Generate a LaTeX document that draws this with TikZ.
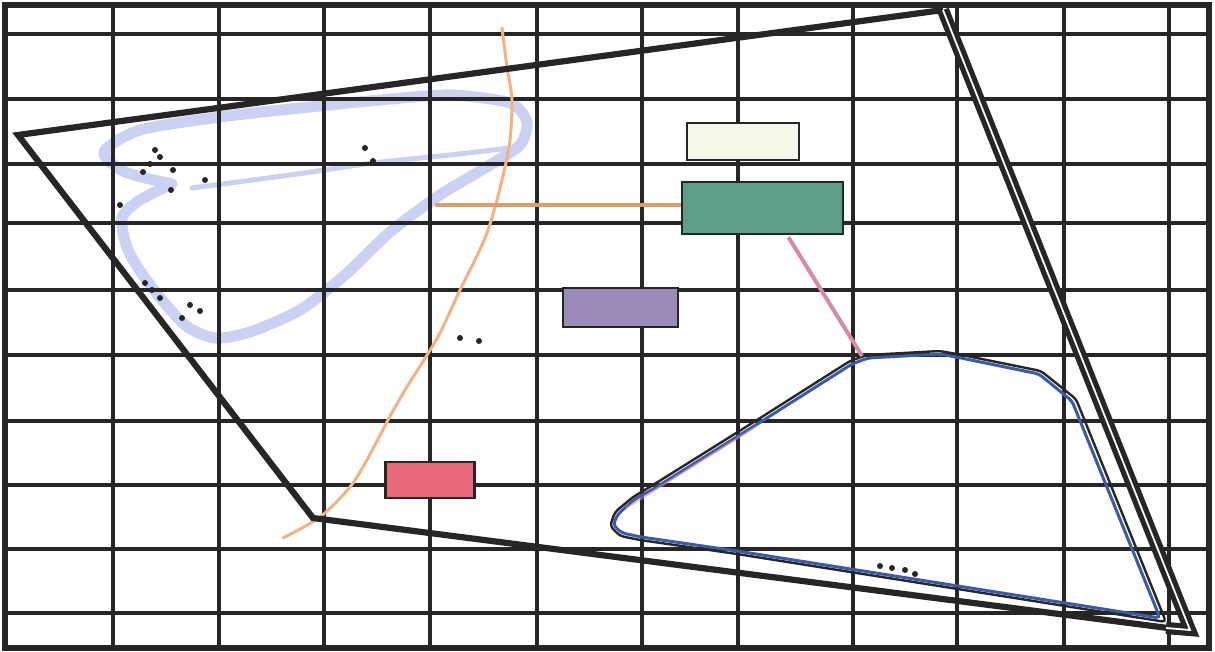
\documentclass[tikz,border=0pt]{standalone}
\usetikzlibrary{calc}
\definecolor{SketchInk}{HTML}{262626}
\definecolor{SketchLoop}{HTML}{CBD1F3}
\definecolor{SketchOrange}{HTML}{F2B283}
\definecolor{SketchRust}{HTML}{D99E6E}
\definecolor{SketchRose}{HTML}{D88AA2}
\definecolor{SketchBlue}{HTML}{3A5CA8}
\definecolor{CardCream}{HTML}{F8F8EA}
\definecolor{CardGreen}{HTML}{5C9E88}
\definecolor{CardLilac}{HTML}{9B8BB8}
\definecolor{CardRed}{HTML}{E86A7A}
\tikzset{
  gridline/.style={draw=SketchInk, line width=3.2pt},
  frame/.style={draw=SketchInk, line width=6pt},
  hull/.style={draw=SketchInk, line width=6.2pt, line join=miter},
  hullrim/.style={draw=SketchInk, line width=5.2pt, double=white, double distance=1.8pt},
  card/.style={draw=SketchInk, line width=2.6pt, inner sep=0pt},
  loopband/.style={draw=SketchLoop, line width=11pt, line cap=round, line join=round},
  loopthin/.style={draw=SketchLoop, line width=5pt, line cap=round},
  trail/.style={draw=SketchOrange, line width=3pt, line cap=round},
  orangelink/.style={draw=SketchRust, line width=4pt},
  roselink/.style={draw=SketchRose, line width=4pt},
  blobrim/.style={draw=SketchInk, line width=2.4pt, rounded corners=4pt},
  blobblue/.style={draw=SketchBlue, line width=3pt, rounded corners=4pt},
}

\begin{document}
\begin{tikzpicture}[x=1pt,y=-1pt]
  % coordinates are pixels of the sheet, y grows downwards
  \useasboundingbox (0,0) rectangle (1215,652);
  \fill[white] (0,0) rectangle (1215,652);
  % pale loop, under the grid
  \draw[loopband] plot[smooth, tension=0.45] coordinates {(172,184) (140,200) (122,218) (128,250) (150,285) (185,325) (215,338) (250,332) (300,310) (345,275) (390,232) (440,195) (490,165) (520,145) (527,122) (510,103) (450,95) (380,100) (300,108) (220,117) (140,130) (104,152) (125,172) (172,184)};
  \draw[loopthin] plot[smooth, tension=0.5] coordinates {(192,188) (290,175) (373,163) (450,155) (518,147)};
  % grid
  \foreach \x in {113,219,324,430,537,642,738,853,957,1064,1169}
    \draw[gridline] (\x,5) -- (\x,648);
  \foreach \y in {34,99,164,223,290,355,421,485,549,613}
    \draw[gridline] (5,\y) -- (1209,\y);
  \draw[frame] (5,5) rectangle (1209,648);
  % orange trail
  \draw[trail] plot[smooth, tension=0.5] coordinates {(502,28) (507,67) (512,100) (510,140) (505,167) (497,200) (487,233) (475,260) (460,290) (440,333) (424,360) (405,390) (388,420) (368,458) (350,487) (320,517) (283,538)};
  % big quadrilateral
  \draw[hull] (943,10) -- (18,135) -- (313,518) -- (1168,628);
  \draw[hullrim] (943,10) -- (1190,630) -- (1166,628);
  % lower right outline
  \coordinate (peak) at (862,356);
  \draw[blobblue] (655,488) -- (759,423) -- (852,364) -- (868,358) -- (940,354) -- (961,358) -- (1039,374) -- (1072,401) -- (1160,618) -- (800,561) -- (737,551) -- (641,537) -- (622,533) -- (613,525) -- (618,514) -- (635,499) -- cycle;
  \draw[SketchRose, line width=2pt, opacity=0.6] (626,508) -- (655,490) -- (757,426);
  \draw[blobrim] (653,485) -- (757,420) -- (850,361) -- (867,355) -- (940,351) -- (962,355) -- (1041,371) -- (1076,399) -- (1166,622) -- (800,564) -- (737,554) -- (640,540) -- (620,536) -- (610,526) -- (615,512) -- (633,497) -- cycle;
  % cards
  \node[card, fill=CardCream, minimum width=112pt, minimum height=37pt] (cream) at (743,141.5) {};
  \node[card, fill=CardGreen, minimum width=161pt, minimum height=52pt] (green) at (762.5,208) {};
  \node[card, fill=CardLilac, minimum width=115pt, minimum height=39pt] (lilac) at (620.5,307.5) {};
  \node[card, fill=CardRed, minimum width=89pt, minimum height=36pt] (red) at (430,480) {};
  % links
  \coordinate (loopjoin) at (435,205);
  \draw[orangelink] (loopjoin) -- (loopjoin -| green.west);
  \draw[roselink] ($(green.south)+(26,2)$) -- (peak);
  % specks
  \foreach \p in {(155,150),(160,157),(150,164),(173,170),(205,180),(143,172),(171,190),(120,205),(365,148),(373,161),(145,283),(152,290),(160,298),(190,305),(200,311),(182,318),(460,338),(479,341),(880,566),(892,568),(905,570),(915,574)}
    \fill[SketchInk] \p circle (3);
\end{tikzpicture}
\end{document}
